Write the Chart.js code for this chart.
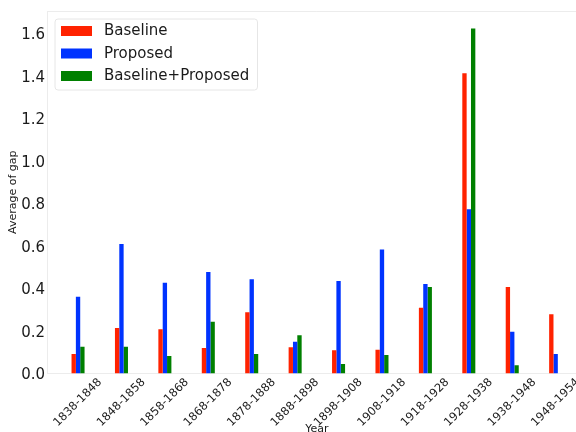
<!DOCTYPE html>
<html>
<head>
<meta charset="utf-8">
<script src="https://cdn.jsdelivr.net/npm/chart.js@4"></script>
<style>
  html, body { margin: 0; padding: 0; width: 576px; height: 432px; overflow: hidden; background: #ffffff; }
  #wrap { position: absolute; left: 0; top: 0; width: 600px; height: 445px; }
</style>
</head>
<body>
<div id="wrap"><canvas id="chart" width="600" height="445"></canvas></div>
<script>
// Decades of the record
const categories = ['1838-1848', '1848-1858', '1858-1868', '1868-1878', '1878-1888', '1888-1898',
                    '1898-1908', '1908-1918', '1918-1928', '1928-1938', '1938-1948', '1948-1954'];

// Average gap per decade for each method
const baseline         = [0.092, 0.214, 0.208, 0.120, 0.288, 0.123, 0.109, 0.112, 0.310, 1.413, 0.407, 0.279];
const proposed         = [0.361, 0.609, 0.427, 0.478, 0.443, 0.150, 0.435, 0.583, 0.421, 0.773, 0.197, 0.092];
const baselineProposed = [0.126, 0.126, 0.082, 0.244, 0.092, 0.180, 0.045, 0.087, 0.407, 1.624, 0.039, 0];

const yTicks = [0, 0.2, 0.4, 0.6, 0.8, 1.0, 1.2, 1.4, 1.6];

const seriesNames  = ['Baseline', 'Proposed', 'Baseline+Proposed'];
const seriesColors = ['#ff2200', '#0033ff', '#008000'];

const FONT = "'DejaVu Sans', sans-serif";
const toPoints = arr => arr.map((v, i) => ({ x: i, y: v }));

// Legend drawn inside the plot, upper left
const boxLegend = {
  id: 'boxLegend',
  afterDraw(chart) {
    const ctx = chart.ctx;
    const x0 = 55, y0 = 19, w = 202.5, h = 71, r = 3;
    ctx.save();
    ctx.beginPath();
    ctx.moveTo(x0 + r, y0);
    ctx.arcTo(x0 + w, y0, x0 + w, y0 + h, r);
    ctx.arcTo(x0 + w, y0 + h, x0, y0 + h, r);
    ctx.arcTo(x0, y0 + h, x0, y0, r);
    ctx.arcTo(x0, y0, x0 + w, y0, r);
    ctx.closePath();
    ctx.fillStyle = 'rgba(255,255,255,0.8)';
    ctx.fill();
    ctx.strokeStyle = '#e6e6e6';
    ctx.lineWidth = 1;
    ctx.stroke();
    ctx.font = '15px ' + FONT;
    ctx.textBaseline = 'middle';
    ctx.textAlign = 'left';
    chart.data.datasets.forEach((ds, i) => {
      const cy = 31 + i * 22.5;
      ctx.fillStyle = ds.backgroundColor;
      ctx.fillRect(61, cy - 5, 31, 10);
      ctx.fillStyle = '#1a1a1a';
      ctx.fillText(ds.label, 104, cy + 0.5);
    });
    ctx.restore();
  }
};

// Light frame line along the top of the plot area
const topFrame = {
  id: 'topFrame',
  beforeDatasetsDraw(chart) {
    const { ctx, chartArea } = chart;
    ctx.save();
    ctx.strokeStyle = '#ececec';
    ctx.lineWidth = 1;
    ctx.beginPath();
    ctx.moveTo(chartArea.left, chartArea.top + 0.5);
    ctx.lineTo(chartArea.right, chartArea.top + 0.5);
    ctx.stroke();
    ctx.restore();
  }
};

new Chart(document.getElementById('chart'), {
  type: 'bar',
  data: {
    datasets: [
      { label: seriesNames[0], data: toPoints(baseline),         backgroundColor: seriesColors[0] },
      { label: seriesNames[1], data: toPoints(proposed),         backgroundColor: seriesColors[1] },
      { label: seriesNames[2], data: toPoints(baselineProposed), backgroundColor: seriesColors[2] }
    ]
  },
  options: {
    responsive: false,
    animation: false,
    devicePixelRatio: 1,
    categoryPercentage: 0.3,
    barPercentage: 1.0,
    borderWidth: 0,
    layout: { padding: { left: 0, top: 11, right: 13.3, bottom: 0 } },
    plugins: { legend: { display: false }, tooltip: { enabled: false } },
    scales: {
      x: {
        type: 'linear',
        offset: false,
        min: -0.715,
        max: 11.715,
        grid: { display: false, drawTicks: false, offset: false },
        border: { display: true, color: '#ececec' },
        afterBuildTicks: s => { s.ticks = categories.map((_, i) => ({ value: i })); },
        afterFit: s => { s.height = 71.5; },
        ticks: {
          autoSkip: false,
          minRotation: 45,
          maxRotation: 45,
          padding: 2,
          labelOffset: 22,
          color: '#1a1a1a',
          font: { family: FONT, size: 11.5 },
          callback: v => categories[v] ?? ''
        },
        title: {
          display: true,
          text: 'Year',
          color: '#1a1a1a',
          font: { family: FONT, size: 11 },
          padding: { top: 0, bottom: 9.4 }
        }
      },
      y: {
        min: 0,
        max: 1.706,
        grid: { display: false, drawTicks: false },
        border: { display: true, color: '#ececec' },
        afterBuildTicks: s => { s.ticks = yTicks.map(v => ({ value: v })); },
        afterFit: s => { s.width = 47; },
        ticks: {
          padding: 2,
          labelOffset: 2,
          color: '#1a1a1a',
          font: { family: FONT, size: 15 },
          callback: v => Number(v).toFixed(1)
        },
        title: {
          display: true,
          text: 'Average of gap',
          color: '#1a1a1a',
          font: { family: FONT, size: 11 },
          padding: { top: 6.8, bottom: 0 }
        }
      }
    }
  },
  plugins: [topFrame, boxLegend]
});
</script>
</body>
</html>
